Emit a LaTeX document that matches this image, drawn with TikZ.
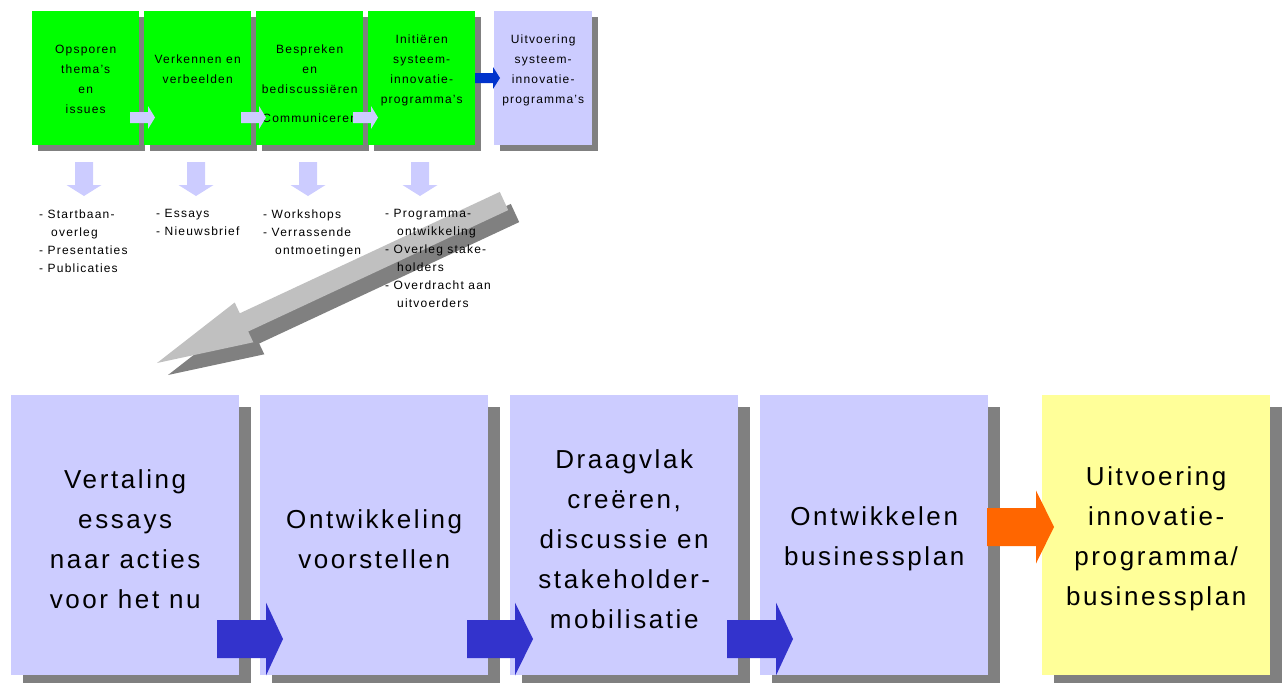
\documentclass[tikz,border=0pt]{standalone}
\usepackage{fontspec}
\setmainfont{Liberation Sans}[LetterSpace=10]
\usepackage{xcolor}
\usepackage{tikz}
\usetikzlibrary{positioning,shadows}

\definecolor{procgreen}{HTML}{00FF00}
\definecolor{lavender}{HTML}{CCCCFF}
\definecolor{shadowgray}{HTML}{808080}
\definecolor{arrowgray}{HTML}{C0C0C0}
\definecolor{planyellow}{HTML}{FFFF99}
\definecolor{darkblue}{HTML}{0033CC}
\definecolor{midblue}{HTML}{3333CC}
\definecolor{flame}{HTML}{FF6600}

\newcommand{\blockright}[7]{\fill[#1] (#2,#5-#6) -- (#3,#5-#6) -- (#3,#5-#7) -- (#4,#5) -- (#3,#5+#7) -- (#3,#5+#6) -- (#2,#5+#6) -- cycle;}
\newcommand{\blockdown}[7]{\fill[#1] (#2-#6,#3) -- (#2+#6,#3) -- (#2+#6,#4) -- (#2+#7,#4) -- (#2,#5) -- (#2-#7,#4) -- (#2-#6,#4) -- cycle;}

\begin{document}
\begin{tikzpicture}[x=1pt,y=-1pt,
  shadowed/.style={drop shadow={shadow xshift=#1, shadow yshift=-#1, fill=shadowgray, opacity=1}},
  topbox/.style={rectangle, inner sep=0pt, anchor=north west, minimum width=107pt, minimum height=134pt, fill=procgreen, shadowed=6pt},
  toptext/.style={inner sep=0pt, align=center, font=\fontsize{12}{20}\selectfont},
  listtext/.style={inner sep=0pt, anchor=north west, align=left, font=\fontsize{12}{18}\selectfont},
  planbox/.style={rectangle, inner sep=0pt, anchor=north west, minimum width=228pt, minimum height=280pt, fill=lavender, shadowed=12pt},
  plantext/.style={inner sep=0pt, align=center, font=\fontsize{26}{40}\selectfont}]
\useasboundingbox (0,0) rectangle (1283,683);

\node[topbox] (b1) at (32,11) {};
\node[topbox] (b2) at (144,11) {};
\node[topbox] (b3) at (256,11) {};
\node[topbox] (b4) at (368,11) {};
\node[topbox, fill=lavender, minimum width=98pt] (b5) at (494,11) {};

\node[toptext, below=34pt of b1.north] (t1) {Opsporen\\thema's\\en\\issues};
\node[toptext, below=44pt of b2.north] (t2) {Verkennen en\\verbeelden};
\node[toptext, below=34pt of b3.north] (t3) {Bespreken\\en\\bediscussiëren};
\node[toptext, below=19pt of t3] (t3c) {Communiceren};
\node[toptext, below=24pt of b4.north] (t4) {Initiëren\\systeem-\\innovatie-\\programma's};
\node[toptext, below=24pt of b5.north] (t5) {Uitvoering\\systeem-\\innovatie-\\programma's};

\blockright{lavender}{130}{148}{155}{117.5}{5.5}{11.5}
\blockright{lavender}{241}{259}{266}{117.5}{5.5}{11.5}
\blockright{lavender}{353}{371}{378}{117.5}{5.5}{11.5}
\blockright{darkblue}{475}{493}{500}{78}{5}{11}

\blockdown{lavender}{84}{162}{185}{196}{9}{17.5}
\blockdown{lavender}{196}{162}{185}{196}{9}{17.5}
\blockdown{lavender}{308}{162}{185}{196}{9}{17.5}
\blockdown{lavender}{420}{162}{185}{196}{9}{17.5}

\fill[shadowgray, shift={(11,12)}] (499.8,191.9) -- (239.8,313.3) -- (234.7,302.5) -- (157,363) -- (253.3,342.3) -- (248.2,331.5) -- (508.2,210.1) -- cycle;
\fill[arrowgray] (499.8,191.9) -- (239.8,313.3) -- (234.7,302.5) -- (157,363) -- (253.3,342.3) -- (248.2,331.5) -- (508.2,210.1) -- cycle;

\node[listtext] (l1) at (39,209.5) {- Startbaan-\\\hspace*{12pt}overleg\\- Presentaties\\- Publicaties};
\node[listtext] (l2) at (156,209.5) {- Essays\\- Nieuwsbrief};
\node[listtext] (l3) at (263,209.5) {- Workshops\\- Verrassende\\\hspace*{12pt}ontmoetingen};
\node[listtext] (l4) at (385,209.5) {- Programma-\\\hspace*{12pt}ontwikkeling\\- Overleg stake-\\\hspace*{12pt}holders\\- Overdracht aan\\\hspace*{12pt}uitvoerders};

\node[planbox] (p1) at (11,395) {};
\node[planbox] (p2) at (260,395) {};
\node[planbox] (p3) at (510,395) {};
\node[planbox] (p4) at (760,395) {};
\node[planbox, fill=planyellow] (p5) at (1042,395) {};

\node[plantext, below=4pt of p1.center, anchor=center] (q1) {Vertaling\\essays\\naar acties\\voor het nu};
\node[plantext, below=4pt of p2.center, anchor=center] (q2) {Ontwikkeling\\voorstellen};
\node[plantext, below=4pt of p3.center, anchor=center] (q3) {Draagvlak\\creëren,\\discussie en\\stakeholder-\\mobilisatie};
\node[plantext, below=4pt of p4.center, anchor=center] (q4) {Ontwikkelen\\businessplan};
\node[plantext, below=4pt of p5.center, anchor=center] (q5) {Uitvoering\\innovatie-\\programma/\\businessplan};

\blockright{midblue}{217}{266}{283}{639}{19}{36.5}
\blockright{midblue}{467}{515}{533}{639}{19}{36.5}
\blockright{midblue}{727}{776}{793}{639}{19}{36.5}
\blockright{flame}{987}{1036}{1054}{527}{19}{36.5}
\end{tikzpicture}
\end{document}
